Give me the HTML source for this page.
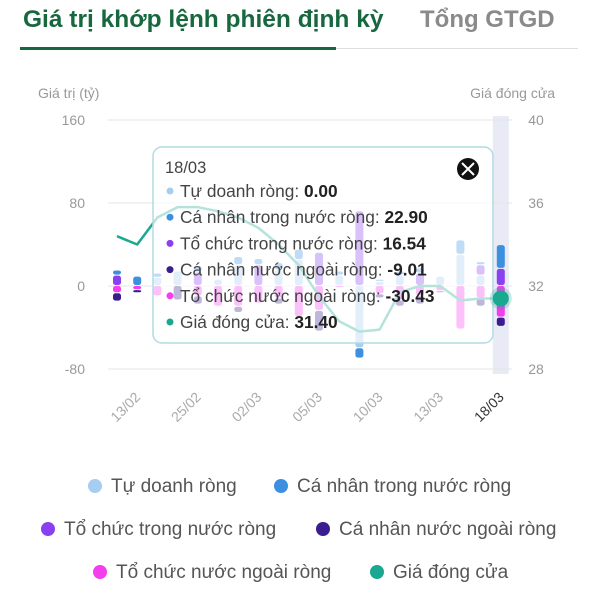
<!DOCTYPE html>
<html><head><meta charset="utf-8">
<style>
html,body{margin:0;padding:0;background:#fff;width:600px;height:600px;overflow:hidden;font-family:"Liberation Sans","Noto Sans CJK SC",sans-serif;}
.tab1{position:absolute;left:23px;top:6px;font-size:24.5px;font-weight:bold;color:#17683e;}
.tab2{position:absolute;left:420px;top:6px;font-size:24px;font-weight:bold;color:#8a8a8a;}
.tabline{position:absolute;left:20px;top:48px;width:558px;height:1px;background:#ddd;}
.tabact{position:absolute;left:20px;top:47px;width:316px;height:3px;background:#17683e;}
.legend{position:absolute;font-size:19px;color:#555;white-space:nowrap;}
.legend span.dot{display:inline-block;width:14px;height:14px;border-radius:50%;vertical-align:-1px;margin-right:9px;}
</style></head><body>
<div class="tab1">Giá trị khớp lệnh phiên định kỳ</div>
<div class="tab2">Tổng GTGD</div>
<div class="tabline"></div>
<div class="tabact"></div>

<svg id="chart" width="600" height="460" style="position:absolute;left:0;top:0"></svg>

<div class="legend" style="left:88px;top:476px"><span class="dot" style="background:#a6cef0"></span>Tự doanh ròng</div>
<div class="legend" style="left:274px;top:476px"><span class="dot" style="background:#3d8fe0"></span>Cá nhân trong nước ròng</div>
<div class="legend" style="left:41px;top:519px"><span class="dot" style="background:#8a3ff0"></span>Tổ chức trong nước ròng</div>
<div class="legend" style="left:316px;top:519px"><span class="dot" style="background:#3a1d8f"></span>Cá nhân nước ngoài ròng</div>
<div class="legend" style="left:93px;top:562px"><span class="dot" style="background:#f53df0"></span>Tổ chức nước ngoài ròng</div>
<div class="legend" style="left:370px;top:562px"><span class="dot" style="background:#1aa890"></span>Giá đóng cửa</div>

<script>
const dates=["12/02","13/02","14/02","24/02","25/02","26/02","27/02","02/03","03/03","04/03","05/03","06/03","07/03","10/03","11/03","12/03","13/03","14/03","17/03","18/03"];
const tuDoanh=[0,0,8,14,0,6,20,0,15,25,0,10,-60,4,10,0,9,30,10,0];
const caNhanTN=[5,9,4,0,6,0,8,6,7,10,0,4,-10,2,4,5,0,14,3,22.9];
const toChucTN=[10,0,0,0,13,0,0,20,0,0,32,0,72,0,0,12,0,0,10,16.54];
const caNhanNN=[-8,-3,0,-14,-8,0,-6,0,-6,0,-20,0,0,-4,-6,-8,-2,0,-8,-9.01];
const toChucNN=[-7,-4,-10,0,-10,-20,-20,-17,-12,-30,-24,-2,0,-8,-14,-10,-5,-42,-12,-30.43];
const price=[34.4,34.0,35.3,35.8,35.8,35.6,35.3,34.8,34.0,33.0,31.5,30.3,29.8,29.9,31.7,32.0,32.0,31.3,31.4,31.4];
const yTicks=[160,80,0,-80];
const rTicks=[40,36,32,28];
const labelIdx=[1,4,7,10,13,16,19];

const NS="http://www.w3.org/2000/svg";
const svg=document.getElementById('chart');
const X0=117,DX=20.2;
const xs=i=>X0+i*DX;
const yL=v=>286-v*(83/80);
const yR=v=>286-(v-32)*(83/4);
function el(t,a,p){const e=document.createElementNS(NS,t);for(const k in a)e.setAttribute(k,a[k]);(p||svg).appendChild(e);return e;}

const hb=el('rect',{x:xs(19)-8,y:116,width:16,height:258,fill:'#e8eaf6'});



let t=el('text',{x:38,y:98,'font-size':14,fill:'#999'});t.textContent='Giá trị (tỷ)';


t=el('text',{x:555,y:98,'font-size':14,fill:'#999','text-anchor':'end'});t.textContent='Giá đóng cửa';



yTicks.forEach(v=>{
  const g=el('line',{x1:108,x2:512,y1:yL(v),y2:yL(v),stroke:'#e6e6e6','stroke-width':1});
  
  
  const tx=el('text',{x:85,y:yL(v)+5,'font-size':14,fill:'#999','text-anchor':'end'});tx.textContent=v;
  
  
});
rTicks.forEach(v=>{
  const tx=el('text',{x:536,y:yR(v)+5,'font-size':14,fill:'#999','text-anchor':'middle'});tx.textContent=v;
  
  
});

labelIdx.forEach(i=>{
  const x=xs(i)+4,y=398;
  const tx=el('text',{x:x,y:y,'font-size':14,fill:i===19?'#333':'#aaa','text-anchor':'end',transform:`rotate(-45 ${x} ${y})`});
  tx.textContent=dates[i];
  
  
});

const series=[[tuDoanh,'#a6cef0'],[toChucTN,'#8a3ff0'],[caNhanTN,'#3d8fe0'],[toChucNN,'#f53df0'],[caNhanNN,'#3a1d8f']];
dates.forEach((d,i)=>{
  const g=el('g',{});
  
  
  let pos=0,neg=0;
  series.forEach(([arr,c])=>{
    const v=arr[i];if(!v)return;
    let y1,y2;
    if(v>0){y1=yL(pos+v);y2=yL(pos);pos+=v;}else{y1=yL(neg);y2=yL(neg+v);neg+=v;}
    const r=el('rect',{x:xs(i)-4,y:y1,width:8,height:Math.max(y2-y1-1,0.5),fill:c,rx:2.5},g);
    
    
  });
});

let dstr='';
price.forEach((p,i)=>{dstr+=(i?'L':'M')+xs(i)+' '+yR(p);});
const pl=el('path',{d:dstr,fill:'none',stroke:'#1aa890','stroke-width':2.5,'stroke-linejoin':'round'});



const tt=el('g',{});


const box=el('rect',{x:153,y:147,width:340,height:196,rx:9,fill:'#fff','fill-opacity':0.68,stroke:'#b2dbe3','stroke-width':1.5},tt);



const halo=el('circle',{cx:xs(19),cy:yR(price[19]),r:11,fill:'#1aa890',opacity:0.25});


const pt=el('circle',{cx:xs(19),cy:yR(price[19]),r:8,fill:'#1aa890'});



let tx=el('text',{x:165,y:173,'font-size':16.5,fill:'#444'},tt);tx.textContent=dates[19];


const rows=[['Tự doanh ròng: ',tuDoanh[19].toFixed(2),'#a6cef0'],['Cá nhân trong nước ròng: ',caNhanTN[19].toFixed(2),'#3d8fe0'],['Tổ chức trong nước ròng: ',toChucTN[19].toFixed(2),'#8a3ff0'],['Cá nhân nước ngoài ròng: ',caNhanNN[19].toFixed(2),'#3a1d8f'],['Tổ chức nước ngoài ròng: ',toChucNN[19].toFixed(2),'#f53df0'],['Giá đóng cửa: ',price[19].toFixed(2),'#1aa890']];
rows.forEach((r,k)=>{
  const y=197+k*26.2;
  const c=el('circle',{cx:170,cy:y-6,r:3.5,fill:r[2]},tt);
  
  
  const t2=el('text',{x:180,y:y,'font-size':17.3,fill:'#444'},tt);
  
  
  const a=el('tspan',{},t2);a.textContent=r[0];
  const b=el('tspan',{'font-weight':'bold',fill:'#222'},t2);b.textContent=r[1];
});
const cb=el('g',{},tt);


el('circle',{cx:468,cy:169,r:11,fill:'#111'},cb);
el('path',{d:'M462 163L474 175M474 163L462 175',stroke:'#fff','stroke-width':2},cb);
</script>
</body></html>
